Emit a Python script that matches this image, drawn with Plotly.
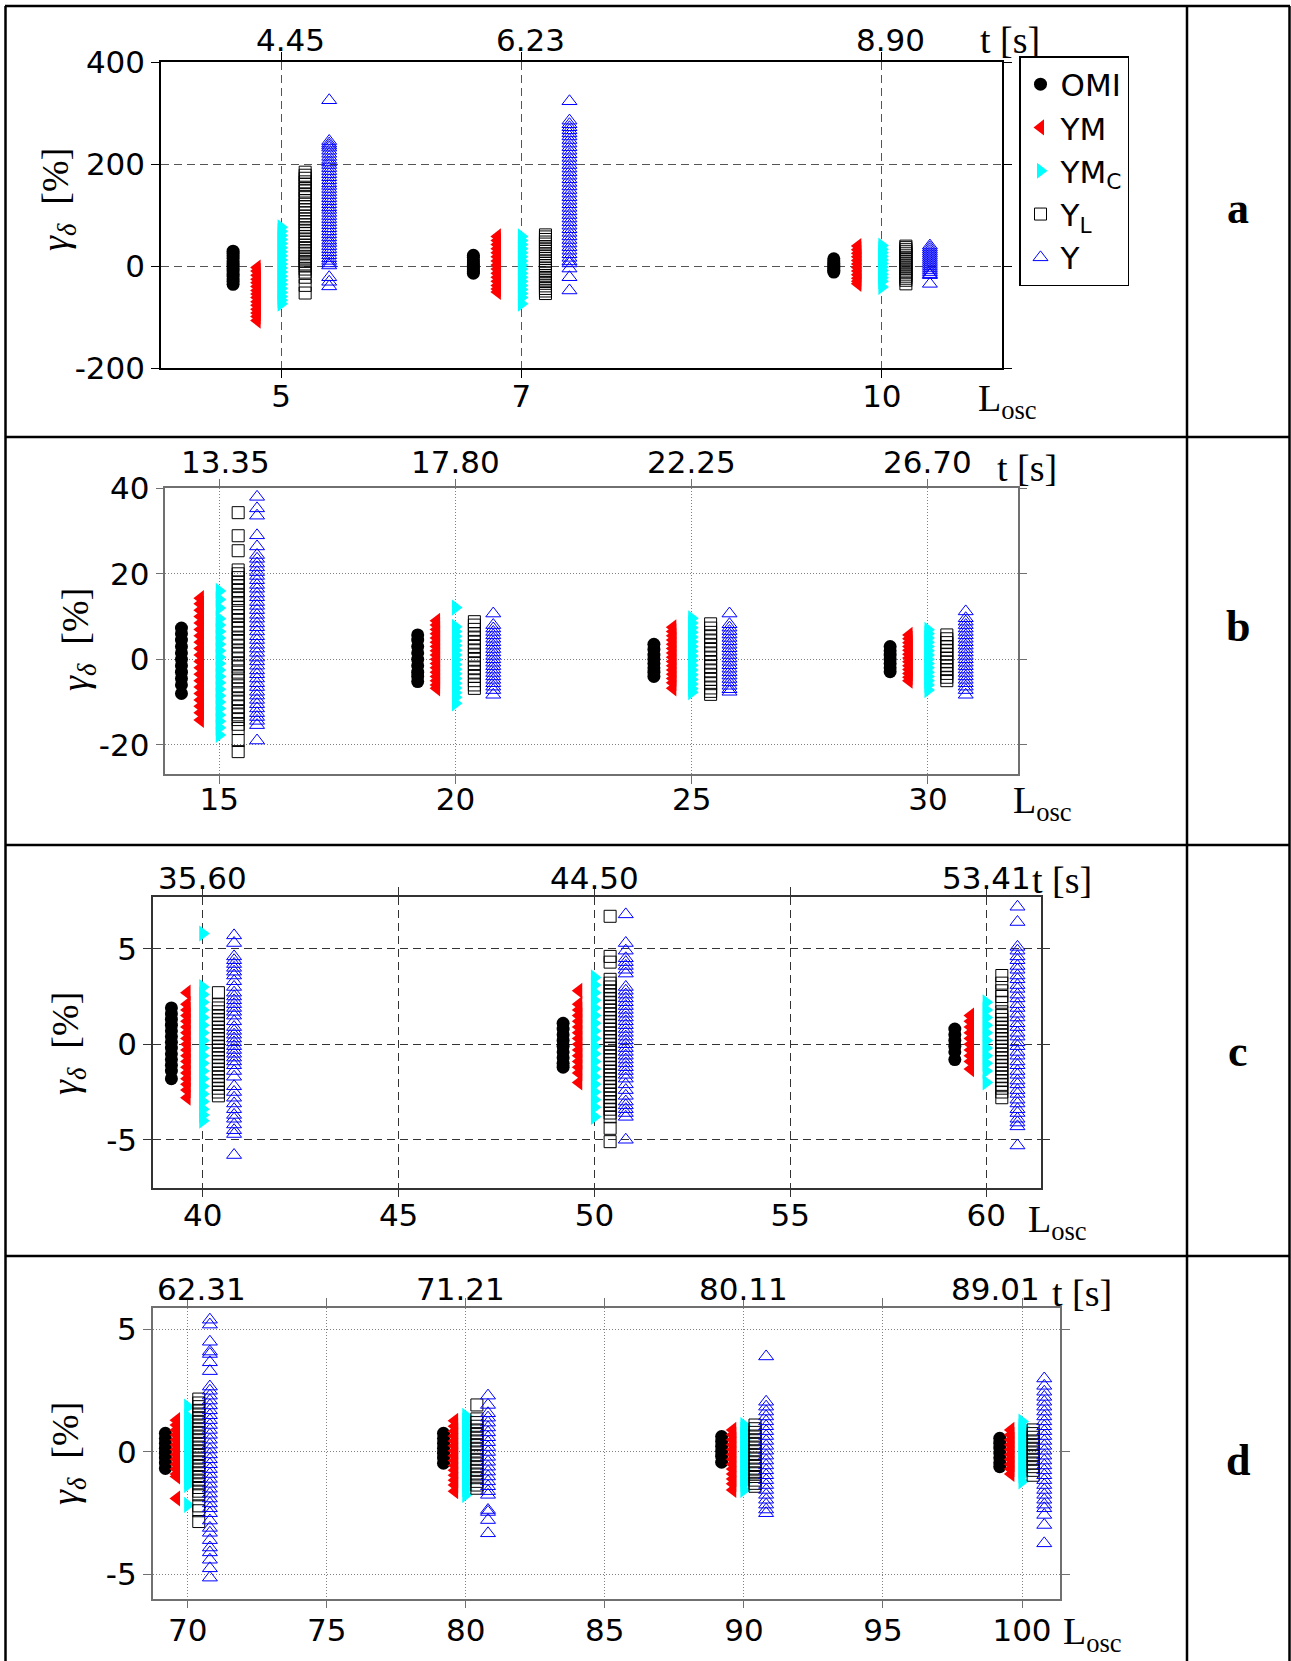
import plotly.graph_objects as go

W, H = 1291, 1661

# ---------------- data ----------------
SERIES = ["OMI", "YM", "YM<sub>C</sub>", "Y<sub>L</sub>", "Y"]

# panel a
A_L = [5, 7, 10]
A_TICKS = [5, 7, 10]
A_T = ["4.45", "6.23", "8.90"]
A_OMI = [[29, 25, 20, 15, 10, 5, 0, -5, -10, -15, -20, -25, -30, -36],
         [21, 17, 12, 8, 4, 0, -4, -8, -11, -14],
         [14, 10, 6, 2, -2, -6, -9, -12]]
A_YM = [[-3, -10, -18, -26, -33, -40, -48, -55, -62, -70, -77, -85, -92, -99, -107],
        [58, 50, 42, 34, 26, 18, 10, 2, -6, -14, -22, -30, -38, -45, -51],
        [39, 32, 25, 18, 11, 4, -3, -10, -17, -24, -30, -35]]
A_YMC = [[76, 68, 60, 52, 44, 36, 28, 20, 12, 4, -4, -12, -20, -28, -36, -44, -52, -60, -67, -74],
         [58, 50, 42, 34, 26, 18, 10, 2, -6, -14, -22, -30, -38, -46, -54, -62, -74],
         [40, 33, 26, 19, 12, 5, -2, -9, -16, -23, -30, -41]]
A_YL = [[184, 178, 172, 165, 160, 152, 147, 140, 134, 128, 121, 116, 110, 104, 98, 92, 87, 81, 75,
         70, 64, 58, 53, 47, 41, 36, 30, 25, 19, 14, 9, 4, 0, -6, -12, -22, -38, -53],
        [61, 57, 52, 47, 43, 38, 33, 29, 24, 19, 15, 10, 5, 1, -4, -9, -14, -19, -24, -29, -34,
         -39, -44, -49, -54],
        [39, 36, 32, 28, 24, 20, 16, 12, 8, 4, 0, -4, -8, -12, -16, -20, -24, -28, -35]]
A_Y = [[325, 245, 240, 236, 232, 226, 220, 214, 208, 203, 198, 192, 186, 180, 174, 168, 162, 157,
        151, 145, 139, 133, 127, 121, 115, 110, 104, 98, 92, 86, 80, 74, 68, 62, 56, 50, 45, 39,
        33, 27, 21, 15, 10, 5, 1, -22, -31, -40],
       [323, 285, 278, 272, 266, 260, 254, 247, 240, 233, 226, 219, 212, 205, 198, 191, 184, 177,
        170, 163, 156, 149, 142, 135, 128, 121, 114, 107, 100, 93, 86, 79, 72, 65, 58, 51, 44, 37,
        30, 23, 16, 9, 5, -5, -22, -48],
       [40, 36, 32, 28, 24, 20, 16, 12, 8, 4, 0, -4, -8, -12, -16, -18, -35]]

# panel b
B_L = [15, 20, 25, 30]
B_TICKS = [15, 20, 25, 30]
B_T = ["13.35", "17.80", "22.25", "26.70"]
B_OMI = [[7.3, 6, 4.5, 3, 1.5, 0, -1.5, -3, -4.5, -6, -8],
         [5.7, 4.5, 3, 1.5, 0, -1.5, -3, -4, -5.2],
         [3.5, 2.3, 1, 0, -1, -2, -3, -4],
         [3.0, 2, 1, 0, -1, -2, -2.9]]
B_YM = [[14.3, 13, 11.5, 10, 8.5, 7, 5.5, 4, 2.5, 1, -0.5, -2, -3.5, -5, -6.5, -8, -9.5, -11, -12.5, -14.2],
        [9, 8, 7, 6, 5, 4, 3, 2, 1, 0, -1, -2, -3, -4, -5, -6, -6.8],
        [7.5, 6.5, 5.5, 4.5, 3.5, 2.5, 1.5, 0.5, -0.5, -1.5, -2.5, -3.5, -4.5, -5.5, -6.8],
        [5.7, 4.8, 3.9, 3, 2.1, 1.2, 0.3, -0.6, -1.5, -2.4, -3.3, -4.2, -5]]
B_YMC = [[16, 14, 12, 9.5, 8, 6.5, 5, 3.5, 2, 0.5, -1, -2.5, -4, -5.5, -7, -8.5, -10, -11.5, -13, -14.5, -16, -17.7],
         [12.1, 7.6, 6.5, 5.4, 4.3, 3.2, 2.1, 1, -0.1, -1.2, -2.3, -3.4, -4.5, -5.6, -6.7, -7.8, -8.9, -10.3],
         [9.6, 8.5, 7.4, 6.3, 5.2, 4.1, 3, 1.9, 0.8, -0.3, -1.4, -2.5, -3.6, -4.7, -5.8, -6.9, -7.7],
         [6.9, 6, 5, 4, 3, 2, 1, 0, -1, -2, -3, -4, -5, -6, -7.2]]
B_YL = [[34.3, 28.9, 25.4, 20.9, 20, 19.1, 18, 17.2, 16.1, 15, 14.2, 13, 12.1, 11, 10.2, 9.1, 8, 7.2,
         6.1, 5, 4.2, 3.1, 2, 1.2, 0.1, -1, -1.8, -3, -4.1, -5, -6.2, -7, -8.1, -9.2, -10, -11.1,
         -12.2, -13, -14.1, -15.2, -16.2, -19, -21.6],
        [8.8, 8, 7, 6, 5, 4, 3, 2, 1, 0, -1, -2, -3, -4, -5, -6, -6.8],
        [8.3, 7.3, 6.3, 5.3, 4.3, 3.3, 2.3, 1.3, 0.3, -0.7, -1.7, -2.7, -3.7, -4.7, -5.7, -6.7, -7.5, -8.2],
        [5.7, 4.8, 3.9, 3, 2.1, 1.2, 0.3, -0.6, -1.5, -2.4, -3.3, -4.2, -5]]
B_Y = [[38, 35.3, 33.6, 29, 26.4, 24.4, 23.5, 22.4, 21.5, 20.4, 19.5, 18.5, 17.4, 16.5, 15.4, 14.5,
        13.4, 12.5, 11.5, 10.4, 9.5, 8.4, 7.5, 6.5, 5.4, 4.5, 3.4, 2.5, 1.5, 0.4, -0.5, -1.5, -2.6,
        -3.5, -4.5, -5.6, -6.5, -7.6, -8.5, -9.5, -10.5, -11.5, -12.6, -13.5, -14.4, -15.4, -19],
       [10.7, 8, 7.2, 6.4, 5.6, 4.8, 4, 3.2, 2.4, 1.6, 0.8, 0, -0.8, -1.6, -2.4, -3.2, -4, -4.8,
        -5.6, -6.4, -7.2, -8.3],
       [10.7, 8.2, 7.4, 6.6, 5.8, 5, 4.2, 3.4, 2.6, 1.8, 1, 0.2, -0.6, -1.4, -2.2, -3, -3.8, -4.6,
        -5.4, -6.2, -7, -7.6],
       [11.2, 9.6, 8.8, 8, 7.2, 6.4, 5.6, 4.8, 4, 3.2, 2.4, 1.6, 0.8, 0, -0.8, -1.6, -2.4, -3.2,
        -4, -4.8, -5.6, -6.4, -7.2, -8.3]]

# panel c
C_L = [40, 50, 60]
C_TICKS = [40, 45, 50, 55, 60]
C_T = ["35.60", "44.50", "53.41"]
C_OMI = [[1.9, 1.6, 1.3, 1, 0.7, 0.4, 0.1, -0.2, -0.5, -0.8, -1.1, -1.4, -1.8],
         [1.1, 0.8, 0.5, 0.2, -0.1, -0.4, -0.7, -1.0, -1.2],
         [0.8, 0.5, 0.2, -0.1, -0.4, -0.8]]
C_YM = [[2.7, 2.1, 1.8, 1.5, 1.2, 0.9, 0.6, 0.3, 0, -0.3, -0.6, -0.9, -1.2, -1.5, -1.8, -2.1, -2.4, -2.8],
        [2.8, 2.1, 1.8, 1.5, 1.2, 0.9, 0.6, 0.3, 0, -0.3, -0.6, -0.9, -1.2, -1.5, -2.0],
        [1.5, 1.2, 0.9, 0.6, 0.3, 0, -0.3, -0.6, -0.9, -1.3]]
C_YMC = [[5.8, 3.0, 2.6, 2.2, 1.8, 1.4, 1, 0.6, 0.2, -0.2, -0.6, -1, -1.4, -1.8, -2.2, -2.6, -3, -3.4, -3.7, -4.0],
         [3.5, 3.1, 2.7, 2.3, 1.9, 1.5, 1.1, 0.7, 0.3, -0.1, -0.5, -0.9, -1.3, -1.7, -2.1, -2.5, -2.9, -3.3, -3.8],
         [2.2, 1.8, 1.4, 1, 0.6, 0.2, -0.2, -0.6, -1, -1.4, -2.0]]
C_YL = [[2.7, 2.1, 1.9, 1.7, 1.5, 1.3, 1.1, 0.9, 0.7, 0.5, 0.3, 0.1, -0.1, -0.3, -0.5, -0.7, -0.9,
         -1.1, -1.3, -1.5, -1.7, -1.9, -2.1, -2.3, -2.5, -2.7],
        [6.7, 4.6, 4.3, 3.4, 3.2, 3, 2.8, 2.6, 2.4, 2.2, 2, 1.8, 1.6, 1.4, 1.2, 1, 0.8, 0.6, 0.4, 0.2,
         0, -0.2, -0.4, -0.6, -0.8, -1, -1.2, -1.4, -1.6, -1.8, -2, -2.2, -2.4, -2.6, -2.8, -3, -3.2,
         -3.4, -3.6, -3.8, -4.4, -5.1],
        [3.6, 3.2, 2.8, 2.5, 2.2, 1.7, 1.5, 1.3, 1.1, 0.9, 0.7, 0.5, 0.3, 0.1, -0.1, -0.3, -0.5, -0.7,
         -0.9, -1.1, -1.3, -1.5, -1.7, -1.9, -2.1, -2.3, -2.5, -2.8]]
C_Y = [[5.7, 5.3, 4.6, 4.4, 4.2, 4.0, 3.8, 3.6, 3.3, 3.0, 2.7, 2.5, 2.3, 2.1, 1.9, 1.7, 1.5, 1.2, 0.9,
        0.7, 0.5, 0.3, 0.1, -0.1, -0.3, -0.5, -0.7, -0.9, -1.1, -1.4, -1.7, -2.2, -2.5, -2.8, -3.1,
        -3.4, -3.7, -3.9, -4.2, -4.5, -4.7, -5.8],
       [6.8, 5.3, 4.9, 4.5, 4.3, 4.1, 3.9, 3.7, 3.0, 2.8, 2.6, 2.4, 2.2, 2.0, 1.8, 1.6, 1.4, 1.2, 1.0,
        0.8, 0.6, 0.4, 0.2, 0, -0.2, -0.4, -0.6, -0.8, -1.0, -1.2, -1.4, -1.6, -1.8, -2.1, -2.4, -2.7,
        -3.0, -3.2, -3.4, -3.6, -3.8, -5.0],
       [7.2, 6.4, 5.1, 4.9, 4.6, 4.4, 4.1, 3.9, 3.6, 3.4, 3.1, 2.9, 2.6, 2.4, 2.1, 1.9, 1.6, 1.4, 1.1,
        0.9, 0.6, 0.4, 0.1, -0.1, -0.4, -0.6, -0.9, -1.1, -1.4, -1.6, -1.9, -2.1, -2.4, -2.6, -2.9,
        -3.1, -3.4, -3.6, -3.9, -4.1, -4.3, -5.3]]

# panel d
D_L = [70, 80, 90, 100]
D_TICKS = [70, 75, 80, 85, 90, 95, 100]
D_T = ["62.31", "71.21", "80.11", "89.01"]
D_OMI = [[0.76, 0.55, 0.35, 0.15, -0.05, -0.25, -0.45, -0.67],
         [0.76, 0.55, 0.35, 0.15, -0.05, -0.25, -0.46],
         [0.63, 0.43, 0.23, 0.03, -0.17, -0.42],
         [0.56, 0.36, 0.16, -0.04, -0.24, -0.44, -0.6]]
D_YM = [[1.3, 1.1, 0.9, 0.7, 0.5, 0.3, 0.1, -0.1, -0.3, -0.5, -0.7, -0.9, -1.0, -1.9],
        [1.27, 1.05, 0.85, 0.65, 0.45, 0.25, 0.05, -0.15, -0.35, -0.55, -0.75, -0.95, -1.15, -1.35, -1.6],
        [0.9, 0.7, 0.5, 0.3, 0.1, -0.1, -0.3, -0.5, -0.7, -0.9, -1.1, -1.3, -1.55],
        [0.9, 0.7, 0.5, 0.3, 0.1, -0.1, -0.3, -0.5, -0.7, -0.9]]
D_YMC = [[1.85, 1.44, 1.2, 1.0, 0.8, 0.6, 0.4, 0.2, 0, -0.2, -0.4, -0.6, -0.8, -1.0, -1.2, -1.35, -2.16],
         [1.48, 1.28, 1.08, 0.88, 0.68, 0.48, 0.28, 0.08, -0.12, -0.32, -0.52, -0.72, -0.92, -1.12, -1.32, -1.52, -1.75],
         [1.1, 0.9, 0.7, 0.5, 0.3, 0.1, -0.1, -0.3, -0.5, -0.7, -0.9, -1.1, -1.3, -1.55],
         [1.24, 1.04, 0.84, 0.64, 0.44, 0.24, 0.04, -0.16, -0.36, -0.56, -0.76, -0.96, -1.2]]
D_YL = [[2.16, 2.0, 1.85, 1.7, 1.55, 1.4, 1.25, 1.1, 0.95, 0.8, 0.65, 0.5, 0.35, 0.2, 0.05, -0.1, -0.25,
         -0.4, -0.55, -0.7, -0.85, -1.0, -1.15, -1.3, -1.45, -1.6, -1.75, -2.2, -2.4, -2.84],
        [1.92, 1.35, 1.2, 1.05, 0.9, 0.75, 0.6, 0.45, 0.3, 0.15, 0, -0.15, -0.3, -0.45, -0.6, -0.75,
         -0.9, -1.05, -1.2, -1.35, -1.48],
        [1.1, 0.95, 0.8, 0.65, 0.5, 0.35, 0.2, 0.05, -0.1, -0.25, -0.4, -0.55, -0.7, -0.85, -1.0, -1.15,
         -1.28, -1.4],
        [0.9, 0.75, 0.6, 0.45, 0.3, 0.15, 0, -0.15, -0.3, -0.45, -0.6, -0.75, -0.95]]
D_Y = [[5.4, 5.2, 4.5, 4.1, 4.0, 3.66, 3.3, 2.67, 2.5, 2.3, 2.1, 1.9, 1.7, 1.5, 1.3, 1.1, 0.9, 0.7, 0.5,
        0.3, 0.1, -0.1, -0.3, -0.5, -0.7, -0.9, -1.1, -1.3, -1.5, -1.7, -1.9, -2.1, -2.3, -2.5, -2.8,
        -3.1, -3.3, -3.6, -3.9, -4.1, -4.4, -4.75, -5.13],
       [2.3, 1.92, 1.58, 1.4, 1.2, 1.0, 0.8, 0.6, 0.4, 0.2, 0, -0.2, -0.4, -0.6, -0.8, -1.0, -1.2, -1.4,
        -1.6, -1.75, -2.37, -2.45, -2.78, -3.32],
       [3.9, 2.05, 1.85, 1.65, 1.45, 1.25, 1.05, 0.85, 0.65, 0.45, 0.25, 0.05, -0.15, -0.35, -0.55,
        -0.75, -0.95, -1.15, -1.35, -1.55, -1.75, -1.95, -2.15, -2.35, -2.5],
       [3.0, 2.7, 2.46, 2.25, 2.05, 1.85, 1.65, 1.45, 1.25, 1.05, 0.85, 0.65, 0.45, 0.25, 0.05, -0.15,
        -0.35, -0.55, -0.75, -0.95, -1.15, -1.35, -1.55, -1.75, -1.95, -2.15, -2.3, -2.57, -2.98, -3.73]]

# ---------------- styling / layout ----------------
MARKERS = [
    dict(symbol="circle", color="black", size=13, line=dict(width=0)),
    dict(symbol="triangle-left", color="#ff0000", size=14, line=dict(width=0)),
    dict(symbol="triangle-right", color="#00ffff", size=14, line=dict(width=0)),
    dict(symbol="square-open", color="black", size=12, line=dict(width=1, color="black")),
    dict(symbol="triangle-up-open", color="#0000ff", size=13, line=dict(width=1, color="#0000ff")),
]
OFFS = [-2, -1, 0, 1, 2]

TICKFONT = dict(family="DejaVu Sans", size=31, color="black")
SERIF = "Liberation Serif"


def pxx(x):
    return x / W


def pxy(y):
    return 1 - y / H


PANELS = [
    dict(L=A_L, ticks=A_TICKS, tl=A_T, data=[A_OMI, A_YM, A_YMC, A_YL, A_Y], step=0.2,
         box=(161, 62, 1002, 368), xr=[4.0, 11.0], yr=[-200, 400], yt=[-200, 0, 200, 400],
         frame="black", grid="#555555", dash="8px,5px", tly=40, tshift=[9, 9, 9],
         ts=(1010, 40), lo=(976, 401), yt_xy=(58, 200), lab=("a", 208), xstand=-8),
    dict(L=B_L, ticks=B_TICKS, tl=B_T, data=[B_OMI, B_YM, B_YMC, B_YL, B_Y], step=0.4,
         box=(165.4, 488.3, 1017.7, 774.3), xr=[13.86, 31.9], yr=[-26.9, 40], yt=[-20, 0, 20, 40],
         frame="#707070", grid="#808080", dash="1px,2px", tly=462, tshift=[6, 0, 0, 0],
         ts=(1027, 468), lo=(1011, 803), yt_xy=(78, 640), lab=("b", 626), xstand=-11),
    dict(L=C_L, ticks=C_TICKS, tl=C_T, data=[C_OMI, C_YM, C_YMC, C_YL, C_Y], step=0.4,
         box=(153, 897, 1040.6, 1187.7), xr=[38.73, 61.39], yr=[-7.51, 7.71], yt=[-5, 0, 5],
         frame="#333333", grid="#333333", dash="8px,5px", tly=878, tshift=[0, 0, 0],
         ts=(1062, 880), lo=(1026, 1222), yt_xy=(68, 1044), lab=("c", 1051), xstand=-9),
    dict(L=D_L, ticks=D_TICKS, tl=D_T, data=[D_OMI, D_YM, D_YMC, D_YL, D_Y], step=0.4,
         box=(152.6, 1307.7, 1060.1, 1598.7), xr=[68.74, 101.37], yr=[-5.99, 5.89], yt=[-5, 0, 5],
         frame="#707070", grid="#808080", dash="1px,2px", tly=1289, tshift=[14, -5, 0, -27],
         ts=(1082, 1293), lo=(1061, 1634), yt_xy=(68, 1454), lab=("d", 1460), xstand=-5),
]

fig = go.Figure()
annotations = []
shapes = []
layout = {}

for i, p in enumerate(PANELS):
    n = i + 1
    xa = "x" if n == 1 else f"x{n}"
    ya = "y" if n == 1 else f"y{n}"
    xkey = "xaxis" if n == 1 else f"xaxis{n}"
    ykey = "yaxis" if n == 1 else f"yaxis{n}"
    for s, name in enumerate(SERIES):
        xs, ys = [], []
        for g, L in enumerate(p["L"]):
            vals = p["data"][s][g]
            xs += [L + OFFS[s] * p["step"]] * len(vals)
            ys += vals
        fig.add_trace(go.Scatter(
            x=xs, y=ys, mode="markers", name=name, xaxis=xa, yaxis=ya,
            marker=MARKERS[s], legendgroup=name, showlegend=(n == 1)))
    x0, y0, x1, y1 = p["box"]
    common = dict(showline=True, linecolor=p["frame"], linewidth=1.5, mirror="ticks",
                  ticks="outside", ticklen=8, tickwidth=1, tickcolor=p["frame"],
                  showgrid=True, gridcolor=p["grid"], griddash=p["dash"], gridwidth=1,
                  zeroline=False, tickfont=TICKFONT, fixedrange=True, automargin=False)
    layout[xkey] = dict(common, domain=[pxx(x0), pxx(x1)], range=p["xr"], anchor=ya,
                        tickmode="array", tickvals=p["ticks"],
                        ticktext=[str(v) for v in p["ticks"]],
                        ticklabelstandoff=p["xstand"])
    layout[ykey] = dict(common, domain=[pxy(y1), pxy(y0)], range=p["yr"], anchor=xa,
                        tickmode="array", tickvals=p["yt"],
                        ticktext=[str(v) for v in p["yt"]])
    # top time labels
    for L, t, sh in zip(p["L"], p["tl"], p["tshift"]):
        annotations.append(dict(x=L, xref=xa, y=pxy(p["tly"]), yref="paper", text=t,
                                showarrow=False, xanchor="center", yanchor="middle",
                                xshift=sh, font=TICKFONT))
    # t [s]
    annotations.append(dict(x=pxx(p["ts"][0]), y=pxy(p["ts"][1]), xref="paper", yref="paper",
                            text="t [s]", showarrow=False, xanchor="center", yanchor="middle",
                            font=dict(family=SERIF, size=38, color="black")))
    # L_osc
    annotations.append(dict(x=pxx(p["lo"][0]), y=pxy(p["lo"][1]), xref="paper", yref="paper",
                            text="L<sub>osc</sub>", showarrow=False, xanchor="left",
                            yanchor="middle",
                            font=dict(family=SERIF, size=38, color="black")))
    # y title
    annotations.append(dict(x=pxx(p["yt_xy"][0]), y=pxy(p["yt_xy"][1]), xref="paper",
                            yref="paper", text="<i>γ</i><sub><i>δ</i></sub>  [%]",
                            showarrow=False, textangle=-90, xanchor="center", yanchor="middle",
                            font=dict(family=SERIF, size=38, color="black")))
    # row label
    annotations.append(dict(x=pxx(1238), y=pxy(p["lab"][1]), xref="paper", yref="paper",
                            text="<b>" + p["lab"][0] + "</b>", showarrow=False,
                            xanchor="center", yanchor="middle",
                            font=dict(family=SERIF, size=44, color="black")))

# table lines
LW = 2.5
for (xa0, ya0, xa1, ya1) in [(5, 6, 1290, 6), (5.5, 6, 5.5, H), (1289.5, 6, 1289.5, H),
                             (1187, 6, 1187, H), (5, 437, 1290, 437), (5, 845, 1290, 845),
                             (5, 1256, 1290, 1256)]:
    shapes.append(dict(type="line", xref="paper", yref="paper",
                       x0=pxx(xa0), y0=pxy(ya0), x1=pxx(xa1), y1=pxy(ya1),
                       line=dict(color="black", width=LW)))

fig.update_layout(
    width=W, height=H, margin=dict(l=0, r=0, t=0, b=0, pad=0, autoexpand=False),
    paper_bgcolor="white", plot_bgcolor="white",
    showlegend=True,
    legend=dict(x=pxx(1019), y=pxy(56), xanchor="left", yanchor="top",
                bgcolor="white", bordercolor="black", borderwidth=1.5,
                font=dict(family="DejaVu Sans", size=31, color="black"),
                itemsizing="trace", tracegroupgap=0),
    annotations=annotations, shapes=shapes, **layout)

fig.write_html("out.html")
